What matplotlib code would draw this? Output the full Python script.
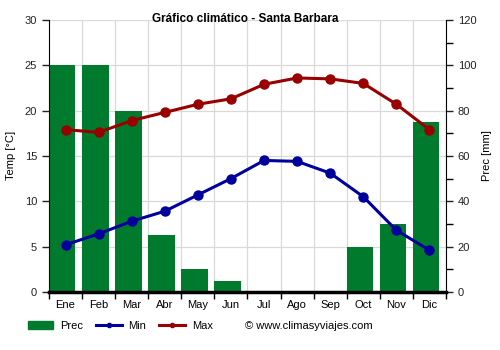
import numpy as np
import matplotlib.pyplot as plt
from matplotlib.lines import Line2D
from matplotlib.patches import Patch

months = ['Ene', 'Feb', 'Mar', 'Abr', 'May', 'Jun', 'Jul', 'Ago', 'Sep', 'Oct', 'Nov', 'Dic']
prec = [100, 100, 80, 25, 10, 5, 0, 0, 0, 20, 30, 75]
t_min = [5.2, 6.4, 7.8, 8.9, 10.7, 12.5, 14.5, 14.4, 13.1, 10.5, 6.8, 4.6]
t_max = [17.9, 17.6, 18.9, 19.8, 20.7, 21.3, 22.9, 23.6, 23.5, 23.0, 20.7, 17.9]

GREEN = '#007b2e'
BLUE = '#00009c'
RED = '#990000'

plt.rcParams['font.family'] = ['Liberation Sans', 'DejaVu Sans']

fig = plt.figure(figsize=(5, 3.5), dpi=100)
ax = fig.add_axes([0.098, 0.166, 0.794, 0.777])
ax2 = ax.twinx()

x = np.arange(len(months))

# precipitation on the right axis, drawn underneath the temperature lines
ax2.bar(x - 0.5, prec, width=0.8, align='edge', color=GREEN, zorder=2)
ax2.set_ylim(0, 120)
ax2.set_yticks(np.arange(0, 121, 20))
ax2.set_yticks(np.arange(0, 121, 10), minor=True)
ax2.set_ylabel('Prec [mm]', fontsize=8, labelpad=4)
ax2.tick_params(axis='y', labelsize=8, colors='#222222', length=5, width=1)
ax2.tick_params(axis='y', which='minor', length=5, width=1)

ax.set_zorder(ax2.get_zorder() + 1)
ax.patch.set_visible(False)

ax.plot(x, t_min, color=BLUE, lw=2.2, marker='o', ms=6.5, zorder=5)
ax.plot(x, t_max, color=RED, lw=2.2, marker='o', ms=6.5, zorder=5)
ax.set_ylim(0, 30)
ax.set_xlim(-0.5, 11.5)
ax.set_yticks(np.arange(0, 31, 5))
ax.set_ylabel('Temp [°C]', fontsize=8, labelpad=6)
ax.tick_params(axis='y', labelsize=8, colors='#222222', length=5, width=1)

ax.set_xticks(x)
ax.set_xticklabels(months, fontsize=8)
ax.set_xticks(np.arange(-0.5, 12, 1), minor=True)
ax.tick_params(axis='x', which='major', length=0, pad=6)
ax.tick_params(axis='x', which='minor', length=5, width=1)

# grid lives on the bar axis so it sits behind the bars
for yv in np.arange(0, 121, 20):
    ax2.axhline(yv, color='#d9d9d9', lw=0.9, zorder=0)
for xv in np.arange(-0.5, 12, 1):
    ax2.axvline(xv, color='#d9d9d9', lw=0.9, zorder=0)

for a in (ax, ax2):
    a.spines['top'].set_visible(False)
ax.spines['right'].set_visible(False)
ax2.spines['left'].set_visible(False)
ax2.spines['bottom'].set_visible(False)
ax.spines['bottom'].set_linewidth(2.5)

fig.text(0.49, 0.947, 'Gráfico climático - Santa Barbara', fontsize=8.5,
         fontweight='bold', ha='center', va='center')

handles = [
    Patch(color=GREEN, label='Prec'),
    Line2D([0], [0], color=BLUE, lw=2.2, marker='o', ms=3, label='Min'),
    Line2D([0], [0], color=RED, lw=2.2, marker='o', ms=3, label='Max'),
]
fig.legend(handles=handles, loc='center left', bbox_to_anchor=(0.035, 0.068), ncol=3,
           frameon=False, fontsize=8, handlelength=2.3, columnspacing=1.2, handletextpad=0.6)
fig.text(0.49, 0.068, '© www.climasyviajes.com', fontsize=8, va='center')

fig.savefig('out.png', dpi=100)
